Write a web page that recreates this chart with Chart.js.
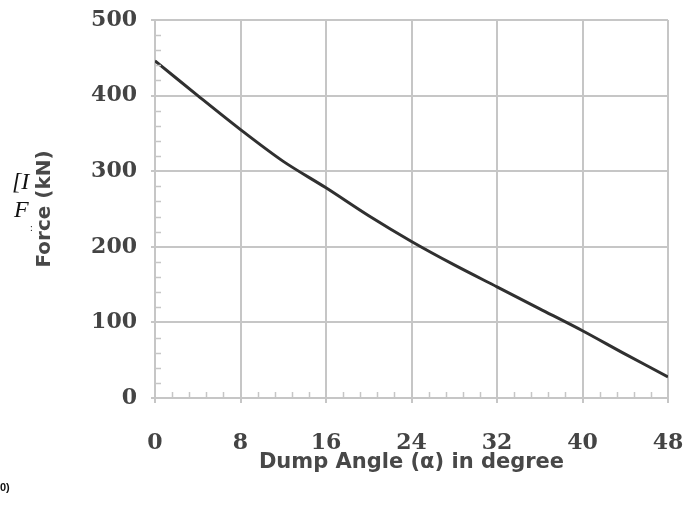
<!DOCTYPE html>
<html>
<head>
<meta charset="utf-8">
<script src="https://cdn.jsdelivr.net/npm/chart.js@4"></script>
<style>
  html, body { margin: 0; padding: 0; background: #fff; }
  #wrap { width: 697px; height: 505px; }
</style>
</head>
<body>
<div id="wrap"><canvas id="forceChart" width="697" height="505"></canvas></div>
<script>
// Dump angle (deg) vs force (kN)
const angles = [0, 4, 8, 12, 16, 20, 24, 28, 32, 36, 40, 44, 48];
const forces = [446, 400, 355, 313, 278, 241, 207, 176, 147, 118, 89, 58, 28];

const xTitle = 'Dump Angle (\u03b1) in degree';
const yTitle = 'Force (kN)';
const xTickStep = 8;
const yTickStep = 100;

const gridColor = '#c6c6c6';
const textColor = '#444444';
const titleColor = '#484848';

// small inner ticks between the major ones
const minorTicks = {
    id: 'minorTicks',
    afterDraw(chart) {
        const ctx = chart.ctx;
        const x = chart.scales.x;
        const y = chart.scales.y;
        const area = chart.chartArea;
        ctx.save();
        ctx.strokeStyle = gridColor;
        ctx.lineWidth = 1.5;
        ctx.beginPath();
        for (let v = 0; v < 500; v += 20) {
            if (v % yTickStep === 0) continue;
            const py = Math.round(y.getPixelForValue(v)) + 0.5;
            ctx.moveTo(area.left, py);
            ctx.lineTo(area.left + 6, py);
        }
        for (let i = 0; i <= 30; i++) {
            if (i % 5 === 0) continue;
            const px = Math.round(x.getPixelForValue(i * 1.6)) + 0.5;
            ctx.moveTo(px, area.bottom);
            ctx.lineTo(px, area.bottom - 6);
        }
        ctx.stroke();

        // stray marks that sit on the left edge of the original figure
        ctx.fillStyle = '#111';
        ctx.font = 'italic 24px "Liberation Serif"';
        ctx.textBaseline = 'middle';
        ctx.fillText('[I', 12, 183);
        ctx.fillText('F', 14, 211);
        ctx.font = '10px "Liberation Serif"';
        ctx.fillText(':', 30, 228);
        ctx.font = 'bold 11px "Liberation Sans"';
        ctx.fillText('0)', 0, 488);
        ctx.restore();
    }
};

new Chart(document.getElementById('forceChart'), {
    type: 'line',
    data: {
        datasets: [{
            data: angles.map((a, i) => ({ x: a, y: forces[i] })),
            borderColor: '#303030',
            borderWidth: 3,
            pointRadius: 0,
            tension: 0.3,
            fill: false
        }]
    },
    options: {
        responsive: false,
        animation: false,
        layout: { padding: { top: 20, right: 29, left: 0, bottom: 0 } },
        plugins: {
            legend: { display: false },
            tooltip: { enabled: false }
        },
        scales: {
            x: {
                type: 'linear',
                min: 0,
                max: 48,
                afterFit(scale) {
                    scale.height = 107;
                    scale.paddingLeft = 0;
                    scale.paddingRight = 0;
                },
                border: { color: gridColor, width: 2 },
                grid: { color: gridColor, lineWidth: 2, tickLength: 5 },
                ticks: {
                    stepSize: xTickStep,
                    color: textColor,
                    padding: 27,
                    maxRotation: 0,
                    font: { family: '"DejaVu Serif"', size: 22, weight: 'bold' }
                },
                title: {
                    display: true,
                    text: xTitle,
                    color: titleColor,
                    padding: { bottom: 30 },
                    font: { family: '"DejaVu Sans"', size: 21, weight: 'bold' }
                }
            },
            y: {
                min: 0,
                max: 500,
                afterFit(scale) {
                    scale.width = 155;
                    scale.paddingTop = 0;
                    scale.paddingBottom = 0;
                },
                border: { color: gridColor, width: 2 },
                grid: { color: gridColor, lineWidth: 2, tickLength: 4 },
                ticks: {
                    stepSize: yTickStep,
                    color: textColor,
                    padding: 14,
                    font: { family: '"DejaVu Serif"', size: 22, weight: 'bold' }
                },
                title: {
                    display: true,
                    text: yTitle,
                    color: titleColor,
                    padding: { top: 33 },
                    font: { family: '"DejaVu Sans"', size: 20, weight: 'bold' }
                }
            }
        }
    },
    plugins: [minorTicks]
});
</script>
</body>
</html>
